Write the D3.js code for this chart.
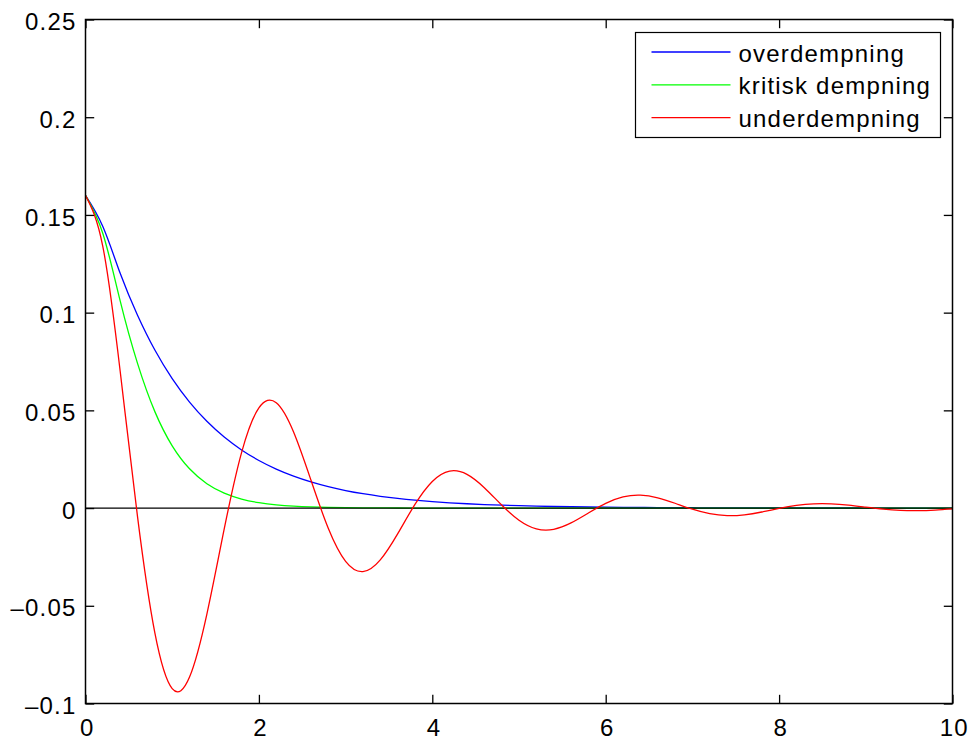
<!DOCTYPE html>
<html lang="en">
<head>
  <meta charset="UTF-8">
  <title>Demping</title>
  <style>
    body {
        margin: 0;
        background-color: white;
    }
    text {
        font-family: "Liberation Sans", Arial, Helvetica, sans-serif;
        font-size: 24px;
        letter-spacing: 1.2px;
        fill: #000;
    }
    .curve {
        fill: none;
        stroke-width: 1.3px;
    }
  </style>
  <script src="https://cdn.jsdelivr.net/npm/d3@7"></script>
</head>
<body>
    <div class="main"></div>

    <script>

    // time axis (s)
    var tValues = [0, 0.2, 0.4, 0.6, 0.8, 1, 1.2, 1.4, 1.6, 1.8, 2, 2.2, 2.4, 2.6, 2.8, 3,
        3.2, 3.4, 3.6, 3.8, 4, 4.2, 4.4, 4.6, 4.8, 5, 5.2, 5.4, 5.6, 5.8, 6,
        6.2, 6.4, 6.6, 6.8, 7, 7.2, 7.4, 7.6, 7.8, 8, 8.2, 8.4, 8.6, 8.8, 9,
        9.2, 9.4, 9.6, 9.8, 10];

    var overdempning = [0.16, 0.14407, 0.12011, 0.0987, 0.08086, 0.06622, 0.05421, 0.04439, 0.03634, 0.02975, 0.02436,
        0.01994, 0.01633, 0.01337, 0.01095, 0.00896, 0.00734, 0.00601, 0.00492, 0.00403, 0.0033,
        0.0027, 0.00221, 0.00181, 0.00148, 0.00121, 0.00099, 0.00081, 0.00067, 0.00055, 0.00045,
        0.00037, 0.0003, 0.00024, 0.0002, 0.00016, 0.00013, 0.00011, 0.00009, 0.00007, 0.00006,
        0.00005, 0.00004, 0.00003, 0.00003, 0.00002, 0.00002, 0.00001, 0.00001, 0.00001, 0.00001];

    var kritiskDempning = [0.16, 0.1405, 0.10602, 0.07405, 0.04935, 0.03187, 0.02011, 0.01248, 0.00764, 0.00463, 0.00278,
        0.00165, 0.00098, 0.00058, 0.00034, 0.0002, 0.00011, 0.00007, 0.00004, 0.00002, 0.00001,
        0, 0, 0, 0, 0, 0, 0, 0, 0, 0,
        0, 0, 0, 0, 0, 0, 0, 0, 0, 0,
        0, 0, 0, 0, 0, 0, 0, 0, 0, 0];

    var underdempning = [0.16, 0.13382, 0.07001, -0.0044, -0.06391, -0.09242, -0.08649, -0.05425, -0.01068, 0.02838, 0.05131,
        0.05393, 0.03895, 0.01435, -0.01033, -0.02727, -0.0325, -0.0265, -0.01319, 0.00188, 0.01362,
        0.01892, 0.01727, 0.01044, 0.00156, -0.00622, -0.01061, -0.01085, -0.00761, -0.00255, 0.0024,
        0.0057, 0.00659, 0.00523, 0.00247, -0.00058, -0.00289, -0.00387, -0.00344, -0.00201, -0.00019,
        0.00135, 0.00219, 0.00218, 0.00148, 0.00044, -0.00055, -0.00119, -0.00133, -0.00103, -0.00046];

    var seriesNames = ["overdempning", "kritisk dempning", "underdempning"];
    var seriesColors = ["#0000ff", "#00ff00", "#ff0000"];

    var xTicks = [0, 2, 4, 6, 8, 10];
    var xTickLabels = ["0", "2", "4", "6", "8", "10"];
    var yTicks = [0.25, 0.2, 0.15, 0.1, 0.05, 0, -0.05, -0.1];
    var yTickLabels = ["0.25", "0.2", "0.15", "0.1", "0.05", "0", "\u20130.05", "\u20130.1"];

    var width = 973,
        height = 742;

    var plotLeft = 85.5, plotTop = 19.5, plotW = 867, plotH = 684;
    var tickLen = 8.7;

    var x = d3.scaleLinear().domain([0, 10]).range([plotLeft, plotLeft + plotW]);
    var y = d3.scaleLinear().domain([-0.1, 0.25]).range([plotTop + plotH, plotTop]);

    var svg = d3.select(".main").append("svg")
        .attr("width", width)
        .attr("height", height);

    svg.append("rect")
        .attr("width", width)
        .attr("height", height)
        .attr("fill", "white");

    // axes, ticks pointing inward on all four sides
    var gx = svg.append("g")
        .attr("transform", "translate(0," + (plotTop + plotH) + ")")
        .call(d3.axisBottom(x).tickValues(xTicks).tickSize(-tickLen).tickPadding(15)
            .tickFormat(function(d, i) { return xTickLabels[i]; }));
    var gy = svg.append("g")
        .attr("transform", "translate(" + plotLeft + ",0)")
        .call(d3.axisLeft(y).tickValues(yTicks).tickSize(-tickLen).tickPadding(9)
            .tickFormat(function(d, i) { return yTickLabels[i]; }));
    var gxTop = svg.append("g")
        .attr("transform", "translate(0," + plotTop + ")")
        .call(d3.axisTop(x).tickValues(xTicks).tickSize(-tickLen).tickFormat(""));
    var gyRight = svg.append("g")
        .attr("transform", "translate(" + (plotLeft + plotW) + ",0)")
        .call(d3.axisRight(y).tickValues(yTicks).tickSize(-tickLen).tickFormat(""));

    [gx, gy, gxTop, gyRight].forEach(function(g) {
        g.select(".domain").remove();
        g.selectAll("line").attr("stroke", "#000").attr("stroke-width", 1.3);
        g.selectAll("text").attr("font-family", null).attr("font-size", null).attr("fill", "#000");
    });
    gy.selectAll("text").attr("dy", "0.42em");
    gx.selectAll("text").attr("dx", "0.05em");

    var line = d3.line()
        .x(function(d) { return x(d[0]); })
        .y(function(d) { return y(d[1]); })
        .curve(d3.curveNatural);

    var allSeries = [overdempning, kritiskDempning, underdempning];

    function drawSeries(i) {
        svg.append("path")
            .datum(tValues.map(function(t, j) { return [t, allSeries[i][j]]; }))
            .attr("class", "curve")
            .attr("stroke", seriesColors[i])
            .attr("d", line);
    }

    drawSeries(0);
    drawSeries(1);

    // zero line
    svg.append("line")
        .attr("x1", x(0)).attr("x2", x(10))
        .attr("y1", y(0)).attr("y2", y(0))
        .attr("stroke", "#000")
        .attr("stroke-width", 1.2);

    drawSeries(2);

    // axes box
    svg.append("rect")
        .attr("x", plotLeft).attr("y", plotTop)
        .attr("width", plotW).attr("height", plotH)
        .attr("fill", "none")
        .attr("stroke", "#000")
        .attr("stroke-width", 1.5);

    // legend
    var legend = svg.append("g")
        .attr("transform", "translate(635.5,32.5)");

    legend.append("rect")
        .attr("width", 305)
        .attr("height", 105)
        .attr("fill", "white")
        .attr("stroke", "#000")
        .attr("stroke-width", 1.2);

    var rows = legend.selectAll("g.row")
        .data(seriesNames)
      .enter().append("g")
        .attr("class", "row")
        .attr("transform", function(d, i) { return "translate(0," + (19.5 + i * 32.8) + ")"; });

    rows.append("line")
        .attr("x1", 16).attr("x2", 95)
        .attr("stroke", function(d, i) { return seriesColors[i]; })
        .attr("stroke-width", 1.3);

    rows.append("text")
        .attr("x", 103)
        .attr("y", 9.5)
        .text(function(d) { return d; });

    </script>
</body>
</html>
